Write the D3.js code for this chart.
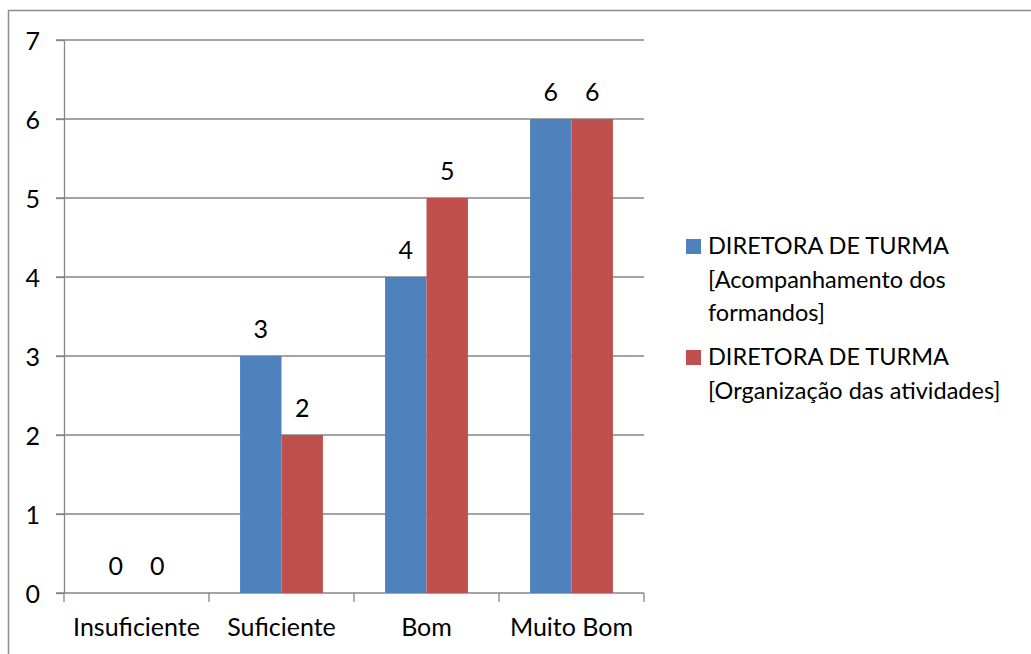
<!DOCTYPE html>
<html>
  <head>
    <meta charset="utf-8">
    <script src="https://cdn.jsdelivr.net/npm/d3@7"></script>
    <style>
      body { margin: 0; background: #fff; }
      svg text { font-family: Lato, "Open Sans", sans-serif; fill: #000; }
      .axis path, .axis line { stroke: #868686; stroke-width: 1.3px; }
    </style>
  </head>
  <body>
    <script>
      // data
      var categories = ["Insuficiente", "Suficiente", "Bom", "Muito Bom"];
      var seriesNames = [
        ["DIRETORA DE TURMA", "[Acompanhamento dos", "formandos]"],
        ["DIRETORA DE TURMA", "[Organização das atividades]"]
      ];
      var acompanhamento = [0, 3, 4, 6];
      var organizacao = [0, 2, 5, 6];
      var colors = ["#4F81BD", "#C0504D"];
      var yTicks = [0, 1, 2, 3, 4, 5, 6, 7];

      var series = [acompanhamento, organizacao];

      var width = 1031, height = 654;
      var plotLeft = 64, plotRight = 644, plotTop = 40, plotBottom = 593;
      var fontSize = "25px";

      var svg = d3.select("body").append("svg")
        .attr("width", width)
        .attr("height", height);

      // outer frame (only top and left visible)
      svg.append("path")
        .attr("d", "M8.5," + height + "V10.5H" + width)
        .attr("fill", "none")
        .attr("stroke", "#8c8c8c")
        .attr("stroke-width", 1.5);

      var x = d3.scaleBand().domain(categories).range([plotLeft, plotRight]);
      var y = d3.scaleLinear().domain([0, 7]).range([plotBottom, plotTop]);

      // gridlines
      svg.append("g")
        .selectAll("line")
        .data(yTicks.slice(1))
        .enter().append("line")
        .attr("x1", plotLeft - 8).attr("x2", plotRight)
        .attr("y1", function(d) { return y(d); })
        .attr("y2", function(d) { return y(d); })
        .attr("stroke", "#868686")
        .attr("stroke-width", 1.3);

      // y axis
      var yAxis = svg.append("g")
        .attr("class", "axis")
        .attr("transform", "translate(" + plotLeft + ",0)")
        .call(d3.axisLeft(y).tickValues(yTicks).tickFormat(d3.format("d"))
          .tickSize(8).tickPadding(16).tickSizeOuter(0));
      yAxis.selectAll("text").style("font-size", fontSize).attr("dy", "0.36em");

      // x axis with ticks between categories
      svg.append("line")
        .attr("x1", plotLeft - 8).attr("x2", plotRight)
        .attr("y1", plotBottom).attr("y2", plotBottom)
        .attr("stroke", "#868686").attr("stroke-width", 1.3);
      var bounds = categories.map(function(c) { return x(c); }).concat([plotRight]);
      svg.append("g").selectAll("line")
        .data(bounds)
        .enter().append("line")
        .attr("x1", function(d) { return d; })
        .attr("x2", function(d) { return d; })
        .attr("y1", plotBottom).attr("y2", plotBottom + 9)
        .attr("stroke", "#868686").attr("stroke-width", 1.3);

      svg.append("g").selectAll("text")
        .data(categories)
        .enter().append("text")
        .attr("x", function(d) { return x(d) + x.bandwidth() / 2; })
        .attr("y", 636)
        .attr("text-anchor", "middle")
        .style("font-size", fontSize)
        .text(function(d) { return d; });

      // bars
      var inner = d3.scaleBand().domain([0, 1])
        .range([0, x.bandwidth()]).paddingOuter(0.75).paddingInner(0);

      series.forEach(function(vals, s) {
        var g = svg.append("g");
        g.selectAll("rect")
          .data(vals)
          .enter().append("rect")
          .attr("x", function(d, i) { return x(categories[i]) + inner(s); })
          .attr("y", function(d) { return y(d); })
          .attr("width", inner.bandwidth())
          .attr("height", function(d) { return plotBottom - y(d); })
          .attr("fill", colors[s]);
        g.selectAll("text")
          .data(vals)
          .enter().append("text")
          .attr("x", function(d, i) { return x(categories[i]) + inner(s) + inner.bandwidth() / 2; })
          .attr("y", function(d) { return y(d) - 18; })
          .attr("text-anchor", "middle")
          .style("font-size", fontSize)
          .text(function(d) { return d; });
      });

      // legend
      var legendY = [246, 357];
      seriesNames.forEach(function(lines, s) {
        svg.append("rect")
          .attr("x", 686).attr("y", legendY[s] - 7)
          .attr("width", 15).attr("height", 15)
          .attr("fill", colors[s]);
        svg.append("g").selectAll("text")
          .data(lines)
          .enter().append("text")
          .attr("x", 708)
          .attr("y", function(d, i) { return legendY[s] + 8 + i * 33.5; })
          .style("font-size", "23.5px")
          .text(function(d) { return d; });
      });
    </script>
  </body>
</html>
